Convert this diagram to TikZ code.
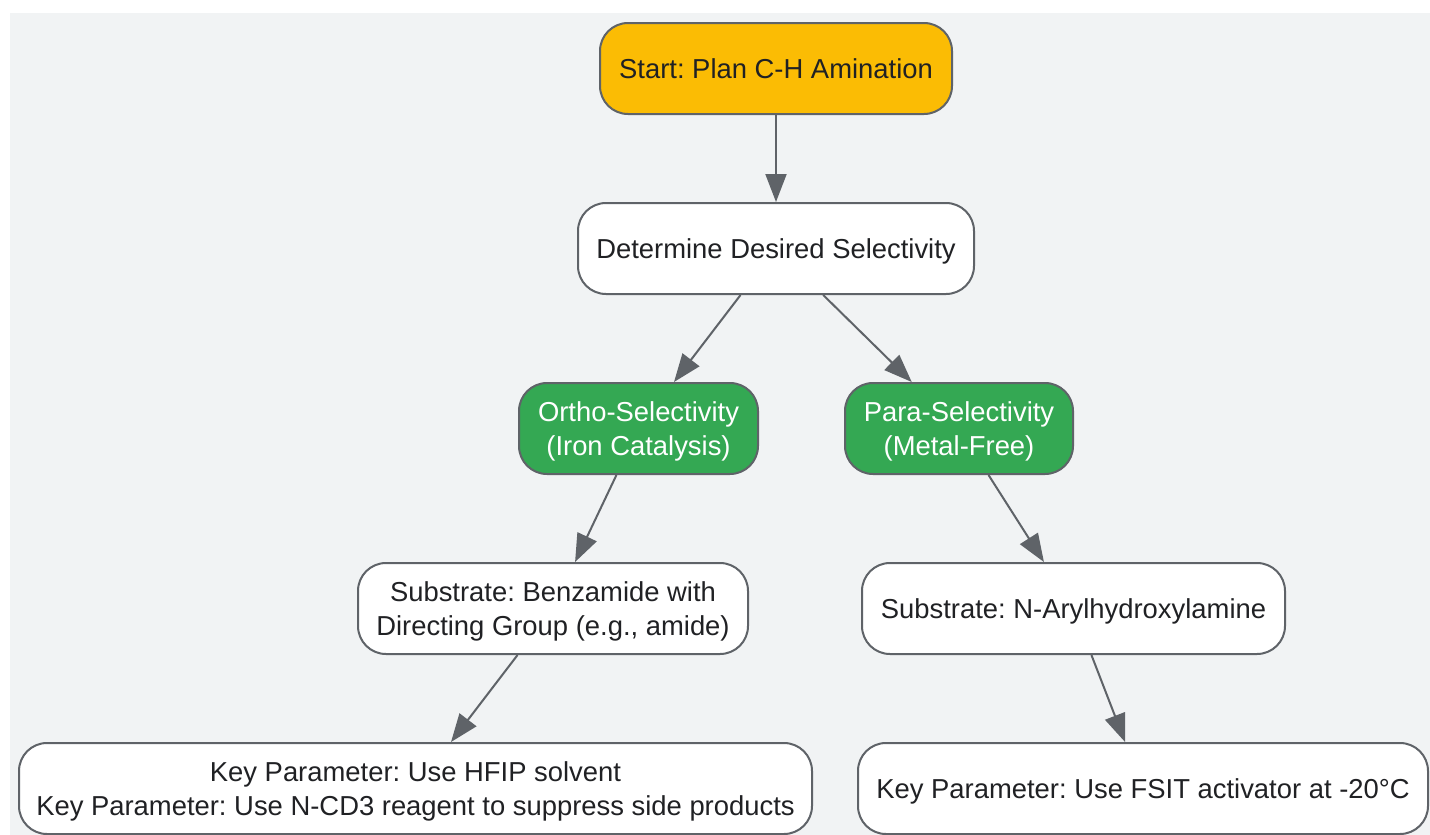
\documentclass[tikz,border=0pt]{standalone}
\usepackage{fontspec}
\setmainfont{Liberation Sans}
\usepackage{tikz}
\usetikzlibrary{arrows.meta}

\definecolor{bgGray}{HTML}{F1F3F4}
\definecolor{lineGray}{HTML}{5F6368}
\definecolor{textDark}{HTML}{202124}
\definecolor{startYellow}{HTML}{FBBC04}
\definecolor{pathGreen}{HTML}{34A853}

% struts so that one- and two-line labels sit the same way
\newcommand{\upStrut}{\rule{0pt}{27.6pt}}
\newcommand{\dnStrut}{\rule[-8pt]{0pt}{8pt}}

\begin{document}
\frenchspacing
\begin{tikzpicture}[x=1pt, y=-1pt, inner sep=0pt]
            \useasboundingbox (0,0) rectangle (1430,835);
            \fill[bgGray] (10,13) rectangle (1430,835);

            \tikzstyle{myBox}=[rectangle, rounded corners=28pt, draw=lineGray, line width=2pt, fill=white, text=textDark, align=center, minimum height=91pt, font=\fontsize{27.4}{34}\selectfont, execute at begin node=\upStrut, execute at end node=\dnStrut];
            \tikzstyle{myPath}=[myBox, fill=pathGreen, text=white];
            \tikzstyle{myArr}=[lineGray, line width=2pt, -{Triangle[length=28pt, width=21pt]}];

            \node[myBox, fill=startYellow, minimum width=352pt] (start) at (776,68.5) {Start: Plan C-H Amination};
            \node[myBox, minimum width=396pt] (select) at (776,248.5) {Determine Desired Selectivity};

            \node[myPath, minimum width=239pt] (ortho) at (638.5,428.5) {\upStrut Ortho-Selectivity\\(Iron Catalysis)\dnStrut};
            \node[myPath, minimum width=228pt] (para) at (959,428.5) {\upStrut Para-Selectivity\\(Metal-Free)\dnStrut};

            \node[myBox, minimum width=390pt] (orthoSub) at (553,608.5) {\upStrut Substrate: Benzamide with\\Directing Group (e.g., amide)\dnStrut};
            \node[myBox, minimum width=423pt] (paraSub) at (1073.5,608.5) {Substrate: N-Arylhydroxylamine};

            \node[myBox, minimum width=793pt] (orthoKey) at (415.5,788.5) {\upStrut Key Parameter: Use HFIP solvent\\Key Parameter: Use N-CD3 reagent to suppress side products\dnStrut};
            \node[myBox, minimum width=570pt] (paraKey) at (1143,788.5) {Key Parameter: Use FSIT activator at -20°C};

            \draw[myArr] (start) -- (select);
            \draw[myArr] (select) -- (ortho);
            \draw[myArr] (select) -- (para);
            \draw[myArr] (ortho) -- (orthoSub);
            \draw[myArr] (para) -- (paraSub);
            \draw[myArr] (orthoSub) -- (orthoKey);
            \draw[myArr] (paraSub) -- (paraKey);
         \end{tikzpicture}
\end{document}
